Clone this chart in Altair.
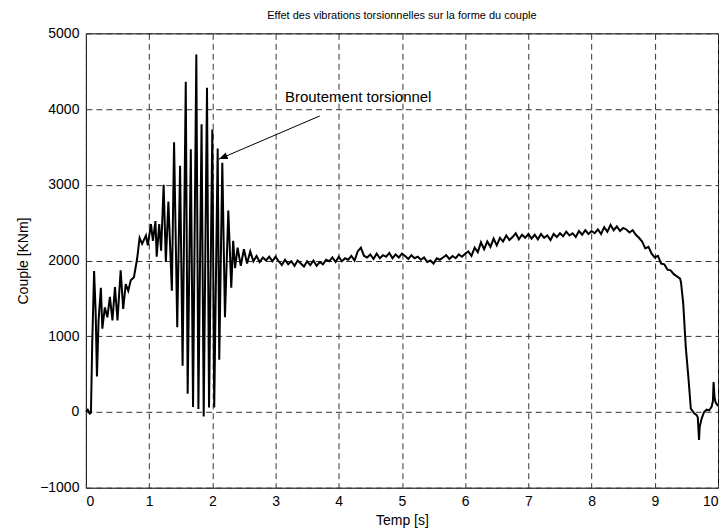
import altair as alt
import pandas as pd

FONT = "Liberation Sans"

# --- startup and torsional chatter (0 - 2.36 s)
time_start = [0.00, 0.03, 0.06, 0.08, 0.10, 0.13, 0.155, 0.175, 0.20, 0.237, 0.26, 0.30, 0.34, 0.38,
              0.42, 0.46, 0.50, 0.55, 0.59, 0.63, 0.67, 0.71, 0.76, 0.81, 0.85, 0.89, 0.95, 0.98,
              1.03, 1.06, 1.10, 1.12, 1.16, 1.19, 1.23, 1.265, 1.305, 1.36, 1.395, 1.445, 1.49,
              1.53, 1.58, 1.61, 1.66, 1.695, 1.747, 1.78, 1.83, 1.864, 1.916, 1.948, 2.00, 2.03,
              2.085, 2.11, 2.158, 2.20, 2.253, 2.30, 2.33, 2.36]
couple_start = [0, 30, -20, -10, 900, 1860, 1300, 470, 1200, 1640, 1100, 1380, 1250, 1520,
                1210, 1650, 1210, 1870, 1360, 1690, 1600, 1740, 1780, 2020, 2300, 2220, 2330, 2200,
                2480, 2260, 2520, 2050, 2480, 2130, 3000, 1980, 2780, 1600, 3560, 1120, 3250,
                610, 4360, 240, 3470, 66, 4720, 40, 3800, -60, 4280, 60, 3730, 60,
                3480, 690, 3290, 1250, 2660, 1640, 2260, 1900]

# --- plateau (2.40 - 9.40 s)
time_plateau = [2.40, 2.45, 2.50, 2.55, 2.60, 2.65, 2.70, 2.75, 2.80, 2.85, 2.90, 2.95,
                3.00, 3.05, 3.10, 3.15, 3.20, 3.25, 3.30, 3.35, 3.40, 3.45, 3.50, 3.55,
                3.60, 3.65, 3.70, 3.75, 3.80, 3.85, 3.90, 3.95, 4.00, 4.05, 4.10, 4.15,
                4.20, 4.25, 4.30, 4.35, 4.40, 4.45, 4.50, 4.55, 4.60, 4.65, 4.70, 4.75,
                4.80, 4.85, 4.90, 4.95, 5.00, 5.05, 5.10, 5.15, 5.20, 5.25, 5.30, 5.35,
                5.40, 5.45, 5.50, 5.55, 5.60, 5.65, 5.70, 5.75, 5.80, 5.85, 5.90, 5.95,
                6.00, 6.05, 6.10, 6.15, 6.20, 6.25, 6.30, 6.35, 6.40, 6.45, 6.50, 6.55,
                6.60, 6.65, 6.70, 6.75, 6.80, 6.85, 6.90, 6.95, 7.00, 7.05, 7.10, 7.15,
                7.20, 7.25, 7.30, 7.35, 7.40, 7.45, 7.50, 7.55, 7.60, 7.65, 7.70, 7.75,
                7.80, 7.85, 7.90, 7.95, 8.00, 8.05, 8.10, 8.15, 8.20, 8.25, 8.30, 8.35,
                8.40, 8.45, 8.50, 8.55, 8.60, 8.65, 8.70, 8.75, 8.80, 8.85, 8.90, 8.95,
                9.00, 9.05, 9.10, 9.15, 9.20, 9.25, 9.30, 9.35, 9.40]
couple_plateau = [2170, 1930, 2150, 1960, 2120, 1990, 2060, 1980, 2040, 2000, 2050, 1990,
                  2050, 1990, 1940, 2010, 1950, 1990, 1930, 2000, 1960, 1920, 1990, 1940,
                  2000, 1930, 1980, 1950, 2010, 1990, 2040, 1980, 2050, 1990, 2030, 2010,
                  2060, 2000, 2120, 2170, 2060, 2040, 2080, 2020, 2090, 2030, 2070, 2050,
                  2100, 2030, 2080, 2040, 2090, 2060, 2020, 2070, 2030, 2050, 2010, 2040,
                  1980, 2000, 1960, 2030, 2010, 2040, 2070, 2020, 2060, 2030, 2080, 2050,
                  2090, 2120, 2060, 2170, 2110, 2240, 2150, 2250, 2180, 2290, 2200, 2300,
                  2250, 2330, 2270, 2310, 2360, 2280, 2340, 2300, 2350, 2290, 2340, 2280,
                  2350, 2300, 2330, 2270, 2350, 2310, 2360, 2320, 2380, 2330, 2360, 2310,
                  2390, 2340, 2400, 2350, 2390, 2360, 2410, 2350, 2440, 2380, 2470, 2400,
                  2450, 2390, 2430, 2410, 2370, 2400, 2340, 2300, 2250, 2160, 2180, 2090,
                  2040, 2060, 1960, 1950, 1880, 1870, 1820, 1790, 1760]

# --- shutdown (9.415 - 10 s)
time_end = [9.415, 9.45, 9.49, 9.535, 9.57, 9.60, 9.625, 9.66, 9.68, 9.70, 9.71, 9.74,
            9.78, 9.82, 9.86, 9.90, 9.92, 9.93, 9.945, 9.96, 9.99, 10.0]
couple_end = [1710, 1430, 860, 420, 45, 10, -20, -40, -70, -370, -200, -90,
              0, 30, 20, 70, 150, 395, 200, 130, 90, 100]

x_ticks = [0, 1, 2, 3, 4, 5, 6, 7, 8, 9, 10]
y_ticks = [-1000, 0, 1000, 2000, 3000, 4000, 5000]

annot_text = ["Broutement torsionnel"]
annot_x = [3.15]
annot_y = [4160]
arrow_from = [3.70, 3909]
arrow_to = [2.106, 3339]

df = pd.DataFrame({"t": time_start + time_plateau + time_end,
                   "c": couple_start + couple_plateau + couple_end})

xs = alt.Scale(domain=[0, 10], nice=False, zero=False)
ys = alt.Scale(domain=[-1000, 5000], nice=False, zero=False)

line = alt.Chart(df).mark_line(color="black", strokeWidth=2).encode(
    x=alt.X("t:Q", scale=xs, axis=alt.Axis(
        title="Temp [s]", values=x_ticks, format="d", titleY=33, titleBaseline="middle")),
    y=alt.Y("c:Q", scale=ys, axis=alt.Axis(
        title="Couple [KNm]", values=y_ticks, format="d", titleX=-62, titleBaseline="middle")),
)

txt_df = pd.DataFrame({"x": annot_x, "y": annot_y, "label": annot_text})
text = alt.Chart(txt_df).mark_text(align="left", baseline="middle", fontSize=15, font=FONT,
                                   color="black").encode(
    x=alt.X("x:Q", scale=xs), y=alt.Y("y:Q", scale=ys), text="label:N")

arr_df = pd.DataFrame({"x": [arrow_from[0]], "y": [arrow_from[1]],
                       "x2": [arrow_to[0]], "y2": [arrow_to[1]]})
arrow_line = alt.Chart(arr_df).mark_rule(color="black", strokeWidth=1).encode(
    x=alt.X("x:Q", scale=xs), y=alt.Y("y:Q", scale=ys), x2="x2:Q", y2="y2:Q")

head_df = pd.DataFrame({"x": [arrow_to[0]], "y": [arrow_to[1]]})
arrow_head = alt.Chart(head_df).mark_point(
    shape="M0,0 L1,-0.4 L1,0.4 Z", filled=True, color="black", opacity=1, size=300, angle=337
).encode(x=alt.X("x:Q", scale=xs), y=alt.Y("y:Q", scale=ys))

chart = alt.layer(line, arrow_line, arrow_head, text).properties(
    width=633, height=455,
    autosize=alt.AutoSizeParams(type="none"),
    padding={"left": 78, "top": 25, "right": 2, "bottom": 40},
    title=alt.TitleParams("Effet des vibrations torsionnelles sur la forme du couple",
                          fontSize=11, font=FONT, fontWeight="normal", color="black",
                          frame="group", anchor="middle", offset=5),
).configure_view(stroke="black", strokeWidth=1).configure_axis(
    domain=False, ticks=False, labelFont=FONT, labelFontSize=14, labelColor="black",
    labelPadding=7, titleFont=FONT, titleFontSize=14, titleFontWeight="normal",
    titleColor="black", grid=True, gridColor="#333333", gridDash=[6, 4], gridWidth=1,
    gridOpacity=1,
)

chart.save("out.html", embed_options={"renderer": "svg", "actions": False})
